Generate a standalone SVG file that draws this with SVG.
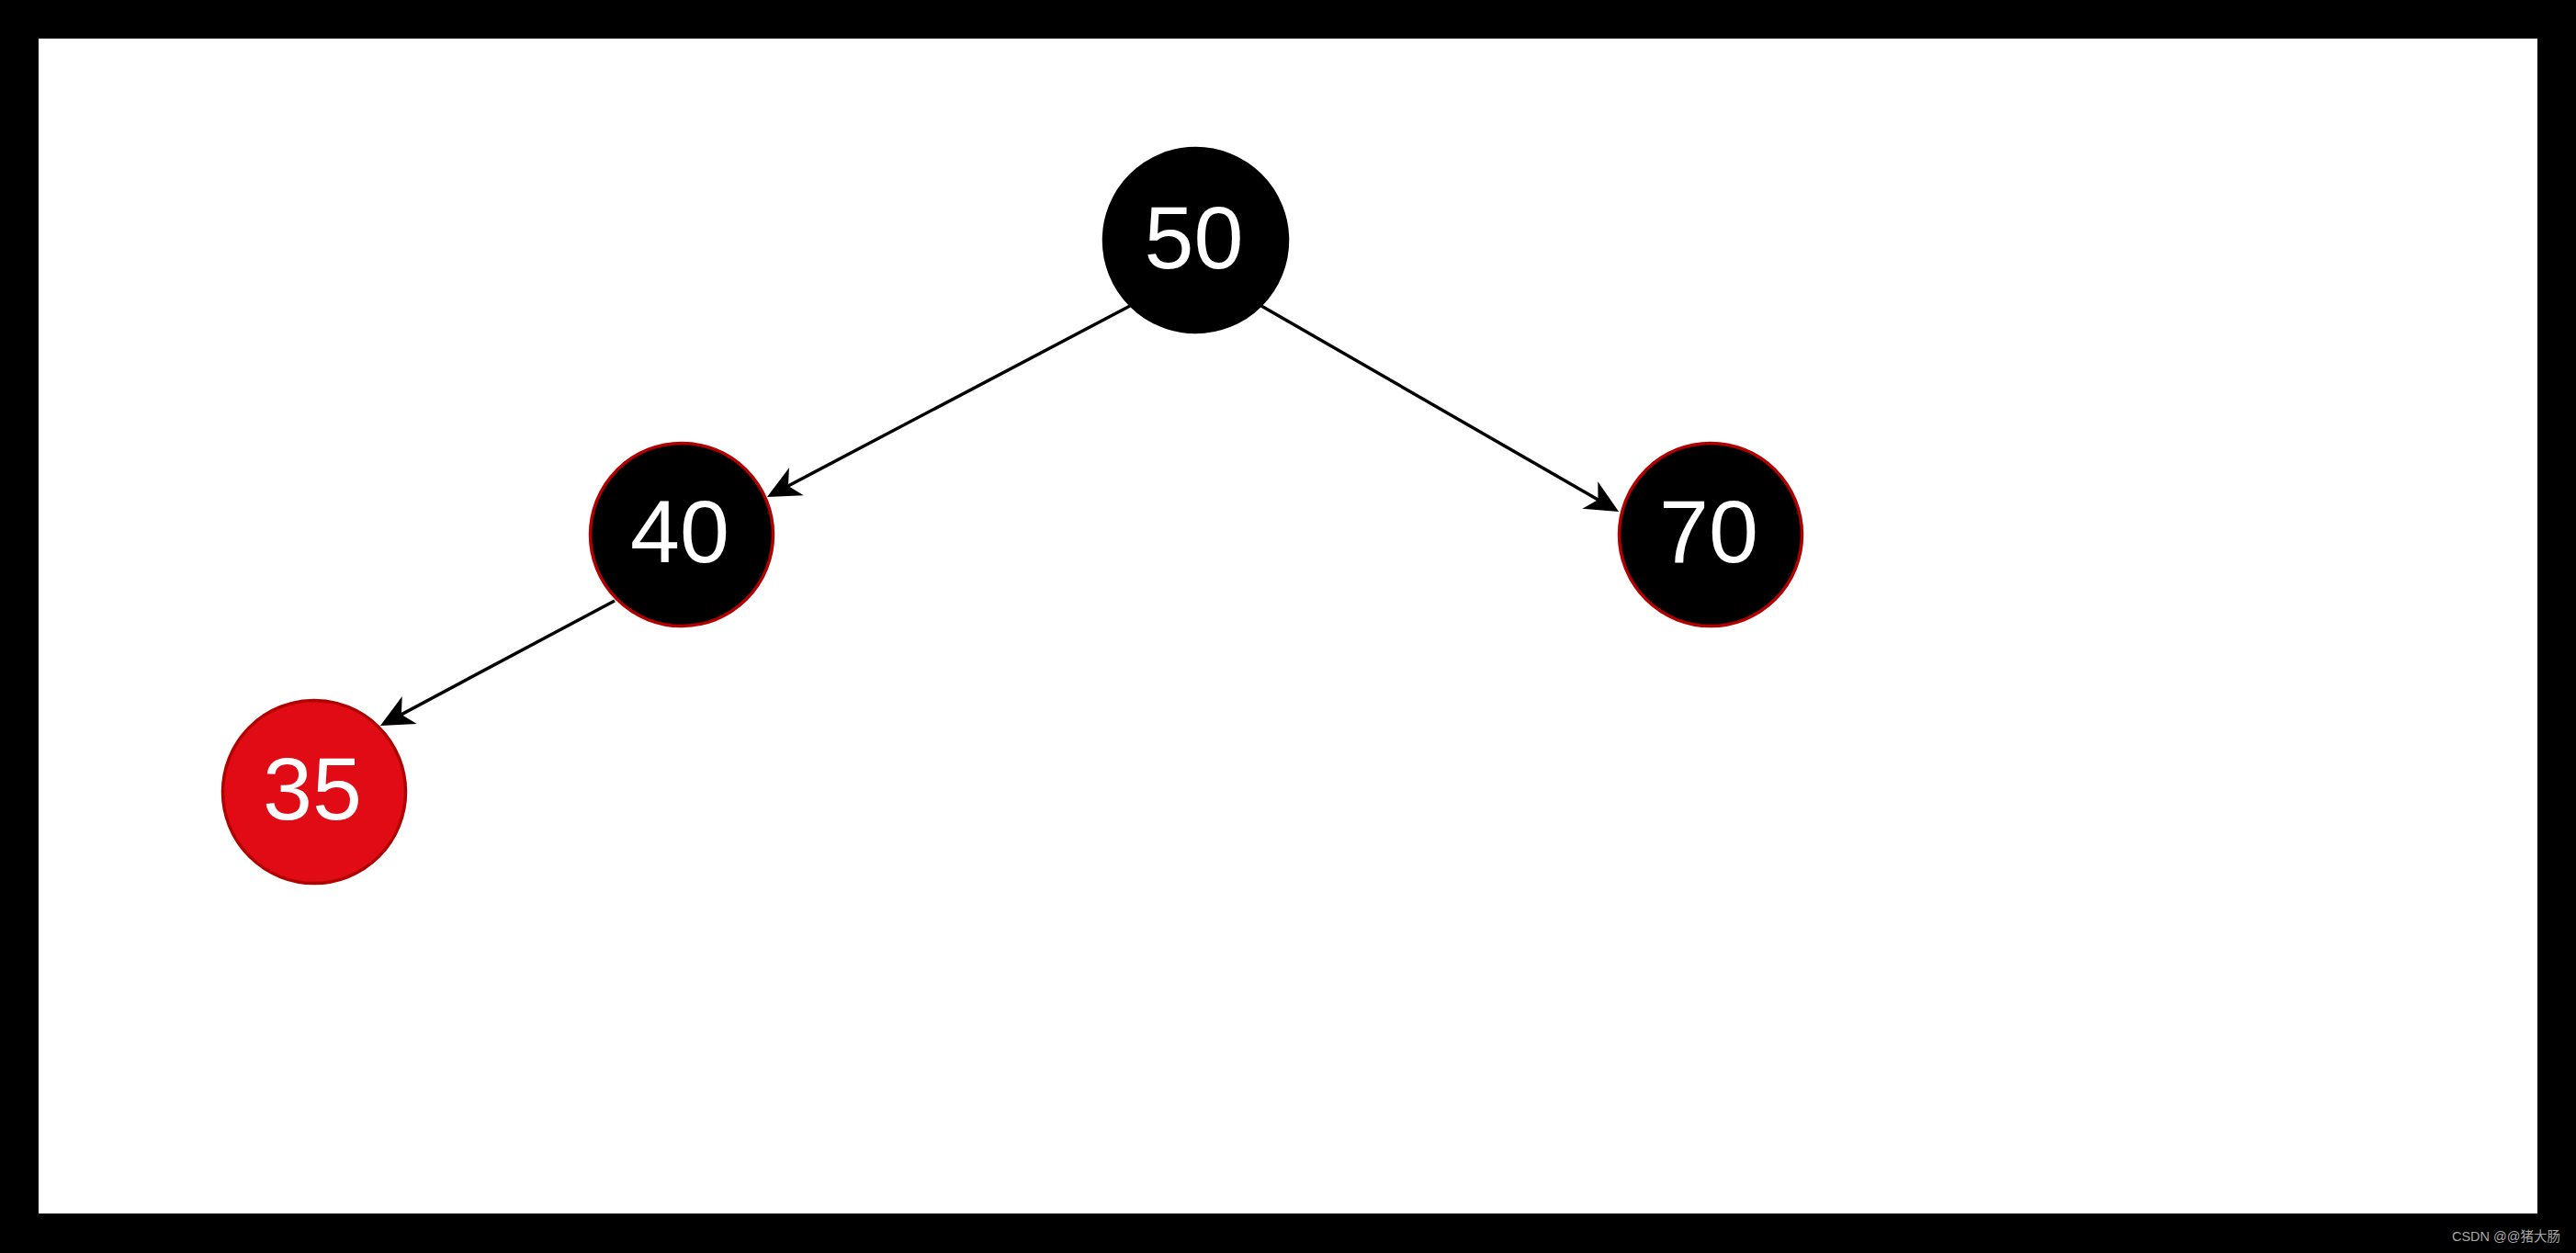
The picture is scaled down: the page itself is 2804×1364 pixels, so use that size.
<svg xmlns="http://www.w3.org/2000/svg" width="2804" height="1364" viewBox="0 0 2804 1364">
  <style>
    .node { stroke-width: 3.5; }
    .black { fill: #000000; }
    .red { fill: #E10B16; }
    .rim { stroke: #B20000; }
    .noRim { stroke: #000000; }
    .label { font-family: "Liberation Sans", Arial, sans-serif; font-size: 97px; fill: #FFFFFF; text-anchor: middle; }
    .edge { stroke: #000000; stroke-width: 3.5; fill: none; marker-end: url(#arrow); }
    .wm { font-family: "Liberation Sans", "Noto Sans CJK SC", sans-serif; font-size: 14.5px; fill: #A8A8A8; text-anchor: end; }
  </style>
  <defs>
    <marker id="arrow" markerUnits="userSpaceOnUse" markerWidth="40" markerHeight="40" viewBox="-40 -20 40 40" refX="-20" refY="0" orient="auto">
      <path d="M0,0 L-36,-17 L-26,0 L-36,17 Z" fill="#000000"/>
    </marker>
  </defs>
  <rect x="0" y="0" width="2804" height="1364" fill="#000000"/>
  <rect x="42" y="42" width="2720" height="1279" fill="#FFFFFF"/>

  <g id="connectors">
    <line class="edge" x1="1230" y1="333" x2="852.7" y2="531.7"/>
    <line class="edge" x1="1373" y1="333" x2="1744.7" y2="547"/>
    <line class="edge" x1="669" y1="654" x2="431.6" y2="780.6"/>
  </g>

  <g id="node50">
    <circle class="node black noRim" cx="1301.5" cy="261.5" r="100"/>
    <text class="label" x="1299.5" y="292">50</text>
  </g>
  <g id="node40">
    <circle class="node black rim" cx="742" cy="582" r="99.5"/>
    <text class="label" x="740" y="612">40</text>
  </g>
  <g id="node70">
    <circle class="node black rim" cx="1862" cy="582" r="99.5"/>
    <text class="label" x="1860" y="612">70</text>
  </g>
  <g id="node35">
    <circle class="node red rim" cx="342" cy="862" r="99.5"/>
    <text class="label" x="340" y="892">35</text>
  </g>

  <text class="wm" x="2787" y="1351">CSDN @@猪大肠</text>
</svg>
